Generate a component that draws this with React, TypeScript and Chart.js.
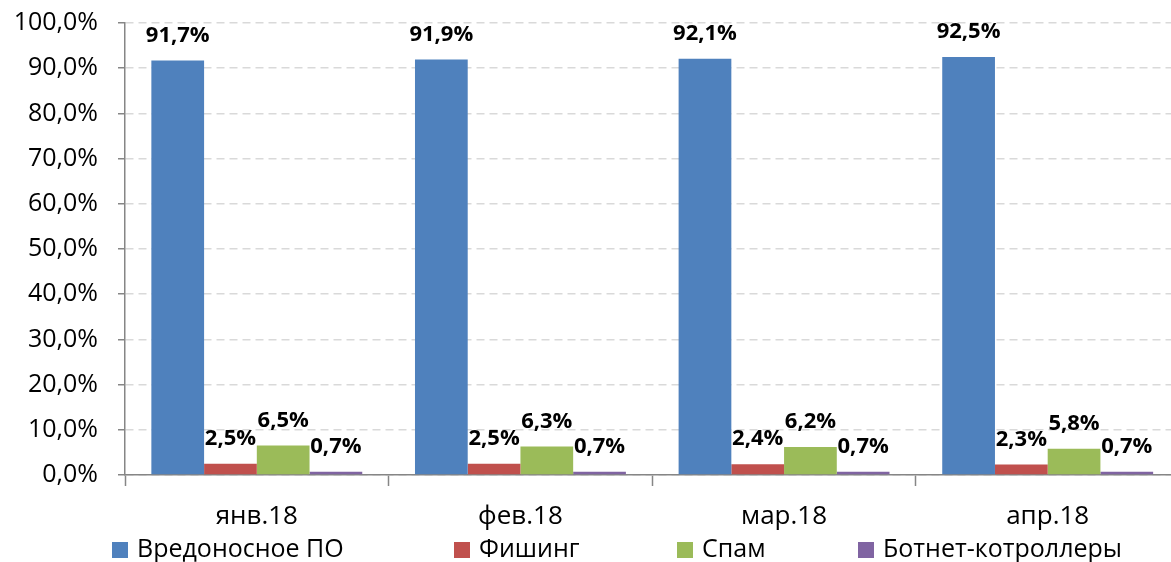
import React, { useEffect, useRef } from "react";
import { Chart, registerables } from "chart.js";

Chart.register(...registerables);

const categories = ["янв.18", "фев.18", "мар.18", "апр.18"];
const seriesNames = ["Вредоносное ПО", "Фишинг", "Спам", "Ботнет-котроллеры"];
const malware = [91.7, 91.9, 92.1, 92.5];
const phishing = [2.5, 2.5, 2.4, 2.3];
const spam = [6.5, 6.3, 6.2, 5.8];
const botnet = [0.7, 0.7, 0.7, 0.7];
const colors = ["#4F81BD", "#C0504D", "#9BBB59", "#8064A2"];
const yTicks = [0, 10, 20, 30, 40, 50, 60, 70, 80, 90, 100];

const FONT = "'Open Sans', 'DejaVu Sans', sans-serif";
const fmt = (v: number, d: number) => v.toFixed(d).replace(".", ",") + "%";

const legendX = [112, 454, 677, 858];

const dataLabelsPlugin = {
  id: "dataLabels",
  afterDatasetsDraw(chart: any) {
    const ctx = chart.ctx;
    ctx.save();
    ctx.font = `bold 22px ${FONT}`;
    ctx.fillStyle = "#000";
    ctx.textAlign = "center";
    ctx.textBaseline = "alphabetic";
    chart.data.datasets.forEach((ds: any, i: number) => {
      const meta = chart.getDatasetMeta(i);
      meta.data.forEach((el: any, j: number) => {
        ctx.fillText(fmt(ds.data[j], 1), el.x, el.y - 19);
      });
    });
    ctx.restore();
  },
};

const customLegendPlugin = {
  id: "customLegend",
  afterDraw(chart: any) {
    const ctx = chart.ctx;
    ctx.save();
    ctx.font = `25px ${FONT}`;
    ctx.textBaseline = "middle";
    ctx.textAlign = "left";
    chart.data.datasets.forEach((ds: any, i: number) => {
      const x = legendX[i];
      ctx.fillStyle = ds.backgroundColor;
      ctx.fillRect(x, 542, 16, 16);
      ctx.fillStyle = "#000";
      ctx.fillText(ds.label, x + 25, 550);
    });
    ctx.restore();
  },
};

export default function App() {
  const ref = useRef<HTMLCanvasElement>(null);
  useEffect(() => {
    document.body.style.margin = "0";
    document.body.style.overflow = "hidden";
    const series = [malware, phishing, spam, botnet];
    const chart = new Chart(ref.current!, {
      type: "bar",
      data: {
        labels: categories,
        datasets: series.map((d, i) => ({
          label: seriesNames[i],
          data: d,
          backgroundColor: colors[i],
          borderWidth: 0,
          categoryPercentage: 0.8,
          barPercentage: 1.0,
        })),
      },
      options: {
        animation: false,
        responsive: false,
        maintainAspectRatio: false,
        layout: { padding: { left: 0, top: 23, right: 10.5, bottom: 0 } },
        plugins: {
          legend: { display: false },
          tooltip: { enabled: false },
        },
        scales: {
          x: {
            grid: {
              offset: true,
              drawOnChartArea: false,
              tickLength: 11,
              tickColor: "#868686",
              tickWidth: 1.5,
            },
            border: { color: "#868686", width: 1.5 },
            ticks: {
              color: "#000",
              font: { family: FONT, size: 26 },
              padding: 15,
            },
            afterFit(scale: any) {
              scale.height = 87;
              scale.paddingLeft = 0;
              scale.paddingRight = 0;
            },
          },
          y: {
            min: 0,
            max: 100,
            afterBuildTicks(scale: any) {
              scale.ticks = yTicks.map((v) => ({ value: v }));
            },
            grid: {
              color: "#D9D9D9",
              lineWidth: 1.5,
              tickLength: 7,
              tickColor: "#868686",
              tickWidth: 1.5,
            },
            border: { color: "#868686", width: 1.5, dash: [8, 5] },
            ticks: {
              color: "#000",
              font: { family: FONT, size: 25 },
              padding: 20,
              callback: (v: any) => fmt(Number(v), 1),
            },
            afterFit(scale: any) {
              scale.width = 125;
              scale.paddingTop = 0;
              scale.paddingBottom = 0;
            },
          },
        },
      },
      plugins: [dataLabelsPlugin, customLegendPlugin],
    });
    return () => chart.destroy();
  }, []);
  return (
    <div style={{ width: 1190, height: 562, overflow: "hidden" }}>
      <canvas ref={ref} width={1190} height={562} style={{ display: "block" }} />
    </div>
  );
}
